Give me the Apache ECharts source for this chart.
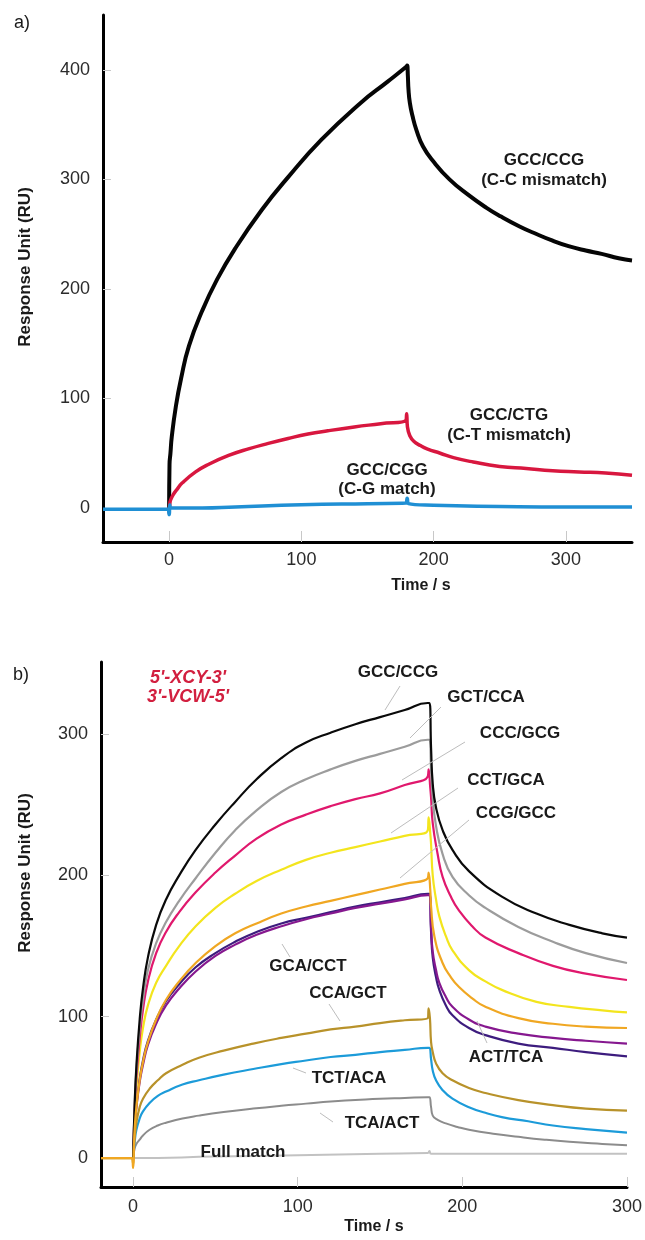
<!DOCTYPE html>
<html>
<head>
<meta charset="utf-8">
<script src="https://cdn.jsdelivr.net/npm/echarts@6/dist/echarts.min.js"></script>
<style>
html,body{margin:0;padding:0;background:#fff;}
#chart{width:645px;height:1240px;}
</style>
</head>
<body>
<div id="chart"></div>
<script>
// ---------- Panel a) data : [time (s), response (RU)] ----------
const a_GCC_CCG = [[0,0],[0.3,40],[1,50],[2,65],[5,92],[9,118],[15,148],[25,180],[36,208],[50,237],[70,272],[90,302],[115,336],[145,370],[165,389],[179.5,403],[180,404],[180.5,395],[181,382],[182,370],[184,358],[187,345],[192,330],[200,316],[212,300],[226,286],[240,274],[251,266],[265,257],[276,251],[290,244],[302,239],[315,235],[327,232],[340,228],[350,226]];
const a_GCC_CTG = [[0,-5],[0.5,4],[1,7],[3,12],[6,17],[10,23],[20,33],[30,40],[45,48],[60,54],[75,59],[90,63.5],[105,67.5],[120,70.5],[140,74],[160,77],[179,80],[179.6,86],[180.2,74],[182,66],[185,61],[190,57],[195,54],[205,50],[215,46],[230,42],[250,38],[270,36],[290,34],[310,33],[330,32],[350,30]];
const a_GCC_CGG = [[-50,-1],[-25,-1],[-1,-1],[0,-6],[0.5,3],[1,0],[25,0],[50,1],[100,3],[150,4],[179,4.5],[180,9],[181,4],[200,2.5],[250,1.5],[300,1],[350,1]];
const a_xTicks = [0,100,200,300];
const a_yTicks = [0,100,200,300,400];

// ---------- Panel b) data ----------
const b_GCC_CCG = [[0,0],[1,40],[2,65],[4,98],[6,120],[9,142],[14,165],[20,183],[28,200],[38,218],[50,236],[62,252],[75,268],[90,283],[105,294],[120,301],[135,307],[150,312],[165,317],[179,322],[180,322],[181,290],[182,265],[184,248],[188,232],[194,218],[204,203],[224,185],[245,173],[265,165],[285,159],[300,156]];
const b_GCT_CCA = [[0,0],[1,38],[2,62],[4,92],[6,112],[9,133],[14,152],[20,167],[28,182],[38,198],[50,216],[62,232],[75,246],[90,259],[105,268],[120,275],[135,281],[150,286],[165,291],[179,296],[180,296],[181,275],[182,255],[184,235],[188,215],[194,199],[204,186],[214,177],[234,163.5],[255,153],[275,145],[300,138]];
const b_CCC_GCG = [[0,0],[1,35],[2,57],[4,85],[6,105],[9,125],[14,145],[20,160],[28,174],[38,188],[50,202],[62,214],[75,226],[90,236],[105,243],[120,249],[135,254],[150,258],[165,264],[179,270],[179.5,275],[180.5,262],[181,255],[182,237],[185,215],[188,199],[193,185],[198,175],[206,164],[214,156],[234,145],[255,136],[275,130.5],[300,126]];
const b_CCT_GCA = [[0,0],[1,30],[2,50],[4,75],[6,92],[9,108],[14,124],[20,136],[28,150],[38,164],[50,177],[62,187],[75,196],[90,204],[105,211],[120,216],[135,220],[150,224],[165,228],[179,232],[179.5,241],[180.5,230],[181,222],[182,200],[184,183],[186,171],[190,157],[194,147],[204,133],[214,125],[224,119],[245,110.5],[265,107],[285,104.5],[300,103]];
const b_CCG_GCC = [[-19.5,0],[-1,0],[0,-7],[0.5,8],[1,22],[2,36],[4,55],[6,68],[9,82],[14,98],[20,112],[28,125],[38,138],[50,150],[62,159],[75,166],[90,173],[105,178],[120,182],[135,186],[150,190],[165,194],[179,198],[179.5,202],[180.5,190],[181,178],[183,157],[188,138],[193,128],[198,121],[206,113],[214,107],[234,99],[255,95],[275,93],[300,92]];
const b_GCA_CCT = [[0,0],[1,22],[2,36],[4,54],[6,66],[9,80],[14,95],[20,108],[28,120],[38,132],[50,143],[62,151],[75,158],[90,164],[105,169],[120,173],[135,177],[150,180],[165,183],[179,186],[180,186],[181,163],[182,146],[184,133],[186,124],[190,114],[194,107],[204,98],[214,93],[234,88],[255,85],[275,83],[300,81]];
const b_ACT_TCA = [[0,0],[1,23],[2,38],[4,56],[6,69],[9,83],[14,98],[20,111],[28,123],[38,135],[50,145],[62,153],[75,160],[90,166],[105,170],[120,174],[135,178],[150,181],[165,184],[179,187],[180,187],[181,160],[182,142],[184,128],[186,119],[190,108],[194,101],[204,92],[214,87],[234,81],[255,78],[275,75],[300,72]];
const b_CCA_GCT = [[-19.5,0],[-1,0],[0,-4],[0.5,8],[1,15],[2,25],[4,36],[6,42],[10,49],[15,55],[20,60],[30,66],[40,71],[55,76],[73,81],[90,85],[105,88],[120,91],[135,93],[150,95.5],[165,97.5],[179,99],[179.5,106],[180.3,99],[181,82],[182,75],[184,67],[188,60],[194,55],[204,49.5],[214,46],[234,41],[255,37.5],[275,35],[300,33.5]];
const b_TCT_ACA = [[0,0],[1,12],[2,20],[4,28],[6,33],[10,39],[15,44],[20,47],[30,52],[40,55],[55,59],[73,63],[90,66.5],[105,69],[120,71.5],[135,73],[150,75],[165,76.5],[179,78],[180,78],[181,70],[182,62],[184,55],[188,48],[194,42],[204,36],[214,32],[224,29],[240,26],[255,23],[275,20.5],[300,18]];
const b_TCA_ACT = [[0,0],[1,7],[2,10],[4,13],[6,16],[10,20],[15,23],[20,25],[30,28],[40,30],[55,32.5],[73,35],[90,37],[105,38.5],[120,40],[135,41],[150,42],[165,42.5],[179,43],[180,43],[181,36],[182,30],[185,27],[190,24.5],[197,22],[204,20],[220,17],[234,15],[250,13],[265,11.5],[285,10],[300,9]];
const b_FullMatch = [[-19.5,0],[0,0],[50,1],[100,2],[150,3],[179,3.5],[180,5],[181,3],[220,3],[260,3],[300,3]];
const b_xTicks = [0,100,200,300];
const b_yTicks = [0,100,200,300];

const FONT = '"Liberation Sans", Arial, Helvetica, sans-serif';

function valAxis(gridIndex, min, max, ticks, margin, tickLen) {
  return {
    type: 'value', gridIndex, min, max,
    axisLine: {show: true, onZero: false, lineStyle: {color: '#000', width: 3}},
    axisTick: {show: true, inside: true, length: tickLen, customValues: ticks, lineStyle: {color: '#c8c8c8', width: 1}},
    axisLabel: {show: true, customValues: ticks, margin, color: '#2b2b2b', fontSize: 18, fontFamily: FONT},
    splitLine: {show: false}
  };
}

function line(name, data, color, width, xi) {
  return {
    name, type: 'line', data, xAxisIndex: xi, yAxisIndex: xi,
    showSymbol: false, symbol: 'none', smooth: 0.5,
    lineStyle: {color, width, join: 'round'}, animation: false, z: 2
  };
}

function txt(x, y, text, opts) {
  opts = opts || {};
  return {
    type: 'text', x, y, rotation: opts.rot || 0, z: 10,
    style: {
      x: 0, y: 0, text,
      font: (opts.style || 'bold') + ' ' + (opts.size || 17) + 'px ' + FONT,
      fill: opts.color || '#1a1a1a',
      align: 'center', verticalAlign: 'middle',
      textAlign: 'center', textVerticalAlign: 'middle'
    }
  };
}
function lead(x1, y1, x2, y2) {
  return {type: 'line', z: 9, shape: {x1, y1, x2, y2}, style: {stroke: '#bdbdbd', lineWidth: 1}};
}

const chart = echarts.init(document.getElementById('chart'), null, {renderer: 'canvas'});
chart.setOption({
  backgroundColor: '#fff',
  animation: false,
  grid: [
    {left: 103, right: 13, top: 15, bottom: 698},
    {left: 101, right: 17, top: 662, bottom: 53}
  ],
  xAxis: [
    valAxis(0, -50, 350, a_xTicks, 9, 11),
    valAxis(1, -19.5, 300, b_xTicks, 11, 10)
  ],
  yAxis: [
    valAxis(0, -31, 450, a_yTicks, 13, 8),
    valAxis(1, -20.5, 351, b_yTicks, 13, 8)
  ],
  series: [
    line('GCC/CCG (C-C mismatch)', a_GCC_CCG, '#050505', 4, 0),
    line('GCC/CTG (C-T mismatch)', a_GCC_CTG, '#d8173f', 3.5, 0),
    line('GCC/CGG (C-G match)', a_GCC_CGG, '#1f8fd4', 3.5, 0),

    line('Full match', b_FullMatch, '#c2c2c2', 2, 1),
    line('TCA/ACT', b_TCA_ACT, '#8c8c8c', 2, 1),
    line('TCT/ACA', b_TCT_ACA, '#1c9bd9', 2.2, 1),
    line('ACT/TCA', b_ACT_TCA, '#3d1c7e', 2.2, 1),
    line('GCA/CCT', b_GCA_CCT, '#86188f', 2.2, 1),
    line('CCT/GCA', b_CCT_GCA, '#f3e51d', 2.2, 1),
    line('CCC/GCG', b_CCC_GCG, '#e0186d', 2.2, 1),
    line('GCT/CCA', b_GCT_CCA, '#9c9c9c', 2.2, 1),
    line('GCC/CCG', b_GCC_CCG, '#0a0a0a', 2.2, 1),
    line('CCA/GCT', b_CCA_GCT, '#b8922a', 2.2, 1),
    line('CCG/GCC', b_CCG_GCC, '#f0a722', 2.2, 1)
  ],
  graphic: [
    // panel letters
    txt(22, 23, 'a)', {style: 'normal', size: 18}),
    txt(21, 675, 'b)', {style: 'normal', size: 18}),
    // axis titles
    txt(25, 267, 'Response Unit (RU)', {rot: Math.PI / 2, size: 17}),
    txt(421, 586, 'Time / s', {size: 16}),
    txt(25, 873, 'Response Unit (RU)', {rot: Math.PI / 2, size: 17}),
    txt(374, 1227, 'Time / s', {size: 16}),
    // panel a labels
    txt(544, 160, 'GCC/CCG'),
    txt(544, 180, '(C-C mismatch)'),
    txt(509, 415, 'GCC/CTG'),
    txt(509, 435, '(C-T mismatch)'),
    txt(387, 470, 'GCC/CGG'),
    txt(387, 489, '(C-G match)'),
    // panel b header
    txt(188, 678, "5'-XCY-3'", {style: 'italic bold', size: 18, color: '#d21f3f'}),
    txt(188, 697, "3'-VCW-5'", {style: 'italic bold', size: 18, color: '#d21f3f'}),
    // panel b labels
    txt(398, 672, 'GCC/CCG'),
    txt(486, 697, 'GCT/CCA'),
    txt(520, 733, 'CCC/GCG'),
    txt(506, 780, 'CCT/GCA'),
    txt(516, 813, 'CCG/GCC'),
    txt(308, 966, 'GCA/CCT'),
    txt(348, 993, 'CCA/GCT'),
    txt(349, 1078, 'TCT/ACA'),
    txt(382, 1123, 'TCA/ACT'),
    txt(243, 1152, 'Full match'),
    txt(506, 1057, 'ACT/TCA'),
    // leader lines
    lead(400, 686, 385, 710),
    lead(441, 707, 410, 738),
    lead(465, 742, 402, 780),
    lead(458, 788, 391, 833),
    lead(469, 820, 400, 878),
    lead(282, 944, 290, 957),
    lead(329, 1004, 340, 1021),
    lead(293, 1068, 306, 1073),
    lead(320, 1113, 333, 1122),
    lead(477, 1021, 487, 1043)
  ]
});
</script>
</body>
</html>
